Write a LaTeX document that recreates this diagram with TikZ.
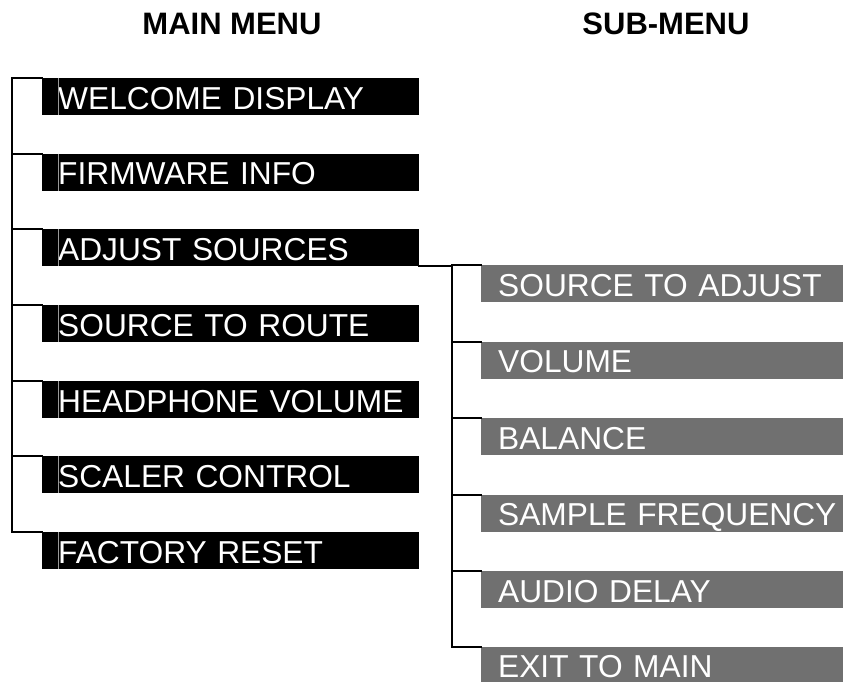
\documentclass[tikz,border=0pt]{standalone}
\usepackage{fontspec}
\setmainfont{Liberation Sans}
\definecolor{subgray}{HTML}{707070}
\definecolor{cursorgray}{HTML}{9A9A9A}
\begin{document}
\begin{tikzpicture}[x=1pt,y=-1pt,
  menutext/.style={font=\fontsize{31.7}{38}\selectfont, text=white, anchor=north west,
    inner xsep=0pt, inner ysep=0pt, text height=31pt, text depth=6pt, align=left},
  mainbox/.style={menutext, fill=black, text width=377pt},
  subbox/.style={menutext, fill=subgray, text width=362pt},
  title/.style={font=\fontsize{31}{37}\selectfont\bfseries, anchor=base, inner sep=0pt},
  conn/.style={line width=2pt, line cap=rect},
  cursor/.style={draw=cursorgray, line width=0.8pt}]
\useasboundingbox (0,0) rectangle (843,682);

\node[title] (mt) at (232,35) {MAIN MENU};
\node[title] (st) at (666,35) {SUB-MENU};

\coordinate (spine) at (12,0);
\coordinate (subspine) at (452,0);

\foreach \n/\y/\t in {welcome/78/WELCOME DISPLAY, firmware/153.5/FIRMWARE INFO,
  adjust/229/ADJUST SOURCES, route/305/SOURCE TO ROUTE, headphone/381/HEADPHONE VOLUME,
  scaler/456/SCALER CONTROL, factory/532/FACTORY RESET}{
  \node[mainbox] (\n) at (42,\y) {\hspace*{16pt}\t};
  \draw[cursor] ([xshift=16pt]\n.north west) -- ([xshift=16pt]\n.south west);
}

\foreach \n/\y/\t in {srcadj/265/SOURCE TO ADJUST, volume/341.5/VOLUME,
  balance/418/BALANCE, sample/494.5/SAMPLE FREQUENCY, delay/571/AUDIO DELAY}{
  \node[subbox] (\n) at (481,\y) {\hspace*{17pt}\t};
}
\node[subbox, text height=30pt, text depth=5pt] (exit) at (481,647) {\hspace*{17pt}EXIT TO MAIN};

% main menu connectors
\draw[conn] (welcome.north west) -- (welcome.north west -| spine)
  -- (factory.north west -| spine) -- (factory.north west);
\foreach \n in {firmware,adjust,route,headphone,scaler}
  \draw[conn] (\n.north west -| spine) -- (\n.north west);

% sub-menu connectors
\draw[conn] (adjust.south east) -- (adjust.south east -| subspine)
  -- (exit.north west -| subspine) -- (exit.north west);
\foreach \n in {srcadj,volume,balance,sample,delay}
  \draw[conn] (\n.north west -| subspine) -- (\n.north west);
\end{tikzpicture}
\end{document}
